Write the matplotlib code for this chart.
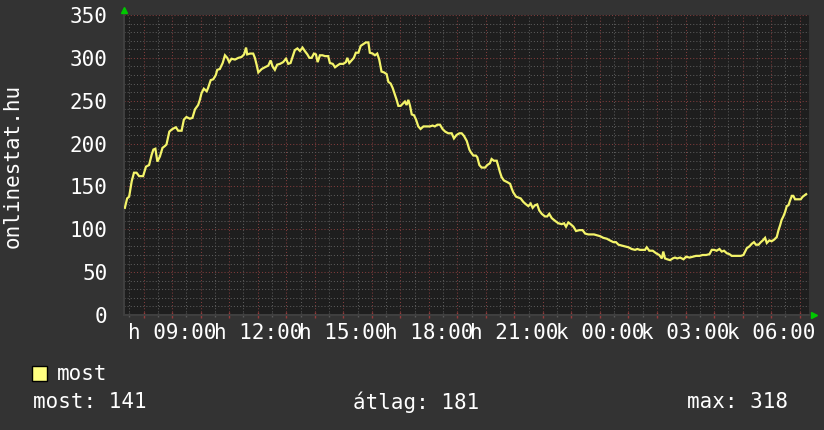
import matplotlib
matplotlib.use('Agg')
import matplotlib.pyplot as plt
from matplotlib.ticker import MultipleLocator
from matplotlib.patches import Rectangle
import matplotlib.transforms as mtransforms

# ---------------- data (hours since 00:00 of day 1) ----------------
hours = [
    7.34, 7.42, 7.49, 7.58, 7.66, 7.75, 7.84, 7.98, 8.08, 8.19,
    8.28, 8.34, 8.41, 8.48, 8.57, 8.66, 8.74, 8.80, 8.90, 9.01,
    9.13, 9.21, 9.33, 9.41, 9.50, 9.62, 9.71, 9.80, 9.91, 9.97,
    10.03, 10.11, 10.21, 10.26, 10.35, 10.44, 10.53, 10.58, 10.67, 10.77,
    10.85, 10.93, 11.00, 11.08, 11.20, 11.32, 11.43, 11.52, 11.59, 11.63,
    11.73, 11.84, 11.90, 11.96, 12.02, 12.14, 12.25, 12.37, 12.45, 12.52,
    12.60, 12.68, 12.78, 12.89, 12.99, 13.07, 13.15, 13.22, 13.30, 13.39,
    13.48,
    13.57, 13.65, 13.74, 13.81, 13.89, 13.97, 14.04, 14.10, 14.18, 14.27,
    14.36, 14.47, 14.53, 14.63, 14.71, 14.79, 14.88, 15.00, 15.09, 15.14,
    15.21, 15.29, 15.37, 15.44, 15.53, 15.61, 15.70, 15.79, 15.88, 15.93,
    16.03, 16.11, 16.19, 16.26, 16.34, 16.43, 16.52, 16.58, 16.66, 16.73,
    16.81, 16.87, 16.93, 17.01, 17.10, 17.16, 17.22, 17.28, 17.34, 17.40,
    17.48, 17.55, 17.63, 17.71, 17.81, 17.92, 18.04, 18.13, 18.21, 18.30,
    18.39, 18.48, 18.57, 18.68, 18.80, 18.88, 18.97, 19.07, 19.15, 19.23,
    19.33, 19.42,
    19.47, 19.56, 19.65, 19.70, 19.77, 19.85, 19.97, 20.05, 20.14, 20.20,
    20.28, 20.38, 20.44, 20.49, 20.55, 20.63, 20.75, 20.85, 20.90, 20.96,
    21.06, 21.14, 21.22, 21.31, 21.41, 21.49, 21.57, 21.64, 21.72, 21.80,
    21.87, 21.96, 22.07, 22.15, 22.22, 22.31, 22.42, 22.54, 22.66, 22.74,
    22.81, 22.89, 22.97, 23.07, 23.16, 23.28, 23.39, 23.48, 23.59, 23.71,
    23.79, 23.89, 24.00, 24.12, 24.24, 24.35, 24.47, 24.56, 24.65, 24.76,
    24.88, 25.00, 25.11, 25.23, 25.31, 25.40,
    25.46, 25.58, 25.64, 25.73, 25.85, 25.97, 26.08, 26.17, 26.22, 26.28,
    26.36, 26.46, 26.55, 26.63, 26.71, 26.81, 26.93, 27.02, 27.14, 27.25,
    27.37, 27.49, 27.60, 27.72, 27.84, 27.92, 28.00, 28.09, 28.19, 28.27,
    28.35, 28.45, 28.54, 28.62, 28.70, 28.82, 28.94, 29.03, 29.09, 29.15,
    29.24, 29.32, 29.40, 29.47, 29.56, 29.64, 29.71, 29.79, 29.85, 29.94,
    30.02, 30.11, 30.20, 30.26, 30.32, 30.37, 30.43, 30.49, 30.55, 30.61,
    30.67, 30.73, 30.78, 30.84, 30.96, 31.04, 31.11, 31.19, 31.23,
]
most = [
    125, 136, 138, 156, 166, 166, 162, 162, 173, 175,
    187, 193, 194, 179, 185, 195, 197, 199, 214, 217,
    219, 215, 215, 228, 231, 229, 230, 240, 245, 251,
    259, 264, 261, 265, 274, 275, 280, 286, 287, 294,
    303, 300, 295, 299, 298, 300, 301, 304, 312, 304,
    305, 305, 300, 292, 283, 287, 289, 291, 297, 290,
    286, 292, 293, 295, 299, 293, 294, 301, 309, 311,
    308,
    312, 308, 304, 300, 300, 305, 304, 295, 303, 303,
    302, 302, 294, 293, 289, 291, 293, 293, 295, 300,
    294, 297, 300, 306, 306, 314, 316, 318, 318, 306,
    305, 303, 305, 298, 284, 283, 281, 272, 270, 265,
    257, 251, 244, 244, 247, 249, 245, 251, 244, 234,
    233, 228, 220, 217, 220, 220, 220, 221, 220, 222,
    222, 217, 214, 212, 212, 206, 210, 212, 212, 209,
    203, 193,
    190, 186, 186, 184, 175, 172, 172, 175, 177, 182,
    180, 180, 173, 167, 161, 157, 155, 153, 148, 143,
    138, 137, 136, 132, 129, 127, 130, 125, 128, 129,
    122, 118, 115, 115, 118, 113, 110, 107, 106, 107,
    103, 108, 106, 103, 98, 99, 99, 95, 94, 94,
    94, 93, 92, 90, 89, 87, 85, 85, 82, 81,
    80, 79, 77, 76, 77, 76,
    76, 76, 79, 75, 75, 72, 70, 66, 74, 66,
    65, 64, 66, 67, 66, 67, 65, 68, 67, 68,
    69, 69, 70, 70, 71, 76, 76, 75, 77, 74,
    75, 72, 71, 69, 69, 69, 69, 70, 74, 78,
    80, 83, 85, 82, 82, 85, 87, 90, 84, 87,
    86, 88, 91, 99, 105, 111, 115, 120, 127, 128,
    134, 139, 139, 135, 135, 135, 138, 140, 141,
]
tick_hours = [9, 12, 15, 18, 21, 24, 27, 30]
tick_labels = ["h 09:00", "h 12:00", "h 15:00", "h 18:00",
               "h 21:00", "k 00:00", "k 03:00", "k 06:00"]
y_ticks = [0, 50, 100, 150, 200, 250, 300, 350]
series_name = "most"
stat_current = 141
stat_avg = 181
stat_max = 318
y_title = "onlinestat.hu"

# ---------------- figure ----------------
W, H = 824, 430
FONT = 'DejaVu Sans Mono'
FS = 15
TXT = '#ffffff'

fig = plt.figure(figsize=(W / 100, H / 100), dpi=100)
fig.patch.set_facecolor('#333333')
ax = fig.add_axes([124 / W, (H - 315) / H, (809 - 124) / W, 300 / H])
ax.set_facecolor('#1e1e1e')
ax.set_xlim(7.31, 31.33)
ax.set_ylim(0, 350)

# grid
ax.xaxis.set_major_locator(MultipleLocator(1))
ax.xaxis.set_minor_locator(MultipleLocator(0.5))
ax.yaxis.set_major_locator(MultipleLocator(50))
ax.yaxis.set_minor_locator(MultipleLocator(10))
ax.grid(which='minor', color='#5a5a5a', linestyle=(0, (1, 2)), linewidth=0.75)
ax.grid(which='major', color='#803c3c', linestyle=(0, (1, 2)), linewidth=0.75)
ax.set_axisbelow(True)

major_x = list(range(8, 32))
ax.set_xticks(major_x)
lab_map = dict(zip(tick_hours, tick_labels))
ax.set_xticklabels([lab_map.get(h, '') for h in major_x])
ax.set_yticks(y_ticks)
ax.set_yticklabels([str(v) for v in y_ticks])

ax.tick_params(axis='x', which='major', direction='inout', length=4, width=1,
               color='#963c3c', pad=4, labelsize=FS, labelcolor=TXT)
ax.tick_params(axis='x', which='minor', direction='inout', length=3, width=1,
               color='#5a5a5a')
ax.tick_params(axis='y', which='both', length=0, pad=12, labelsize=FS,
               labelcolor=TXT)
for lab in ax.get_xticklabels() + ax.get_yticklabels():
    lab.set_fontfamily(FONT)

for s in ['top', 'right']:
    ax.spines[s].set_visible(False)
for s in ['left', 'bottom']:
    ax.spines[s].set_color('#404040')
    ax.spines[s].set_linewidth(1.4)

# data line
ax.plot(hours, most, color='#f4f46a', linewidth=1.6, solid_joinstyle='miter',
        zorder=3)

# green arrows
up = mtransforms.offset_copy(ax.transAxes, fig=fig, x=0, y=5, units='dots')
ax.plot([0], [1], marker='^', markersize=5, color='#00c800', transform=up,
        clip_on=False, zorder=5)
rt = mtransforms.offset_copy(ax.transAxes, fig=fig, x=5, y=0, units='dots')
ax.plot([1], [0], marker='>', markersize=5, color='#00c800', transform=rt,
        clip_on=False, zorder=5)

# y title
fig.text(13 / W, 1 - 166 / H, y_title, rotation=90, ha='center', va='center',
         fontfamily=FONT, fontsize=FS, color=TXT)

# legend
fig.patches.append(Rectangle((32 / W, 1 - 381 / H), 15 / W, 15 / H,
                             transform=fig.transFigure, facecolor='#ffff80',
                             edgecolor='#000000', linewidth=1))
fig.text(57 / W, 1 - 374 / H, series_name, ha='left', va='center',
         fontfamily=FONT, fontsize=FS, color=TXT)
fig.text(33 / W, 1 - 402 / H, f"most: {stat_current}", ha='left', va='center',
         fontfamily=FONT, fontsize=FS, color=TXT)
fig.text(353 / W, 1 - 402 / H, f"átlag: {stat_avg}", ha='left', va='center',
         fontfamily=FONT, fontsize=FS, color=TXT)
fig.text(687 / W, 1 - 402 / H, f"max: {stat_max}", ha='left', va='center',
         fontfamily=FONT, fontsize=FS, color=TXT)

fig.savefig('out.png', dpi=100, facecolor=fig.get_facecolor())
